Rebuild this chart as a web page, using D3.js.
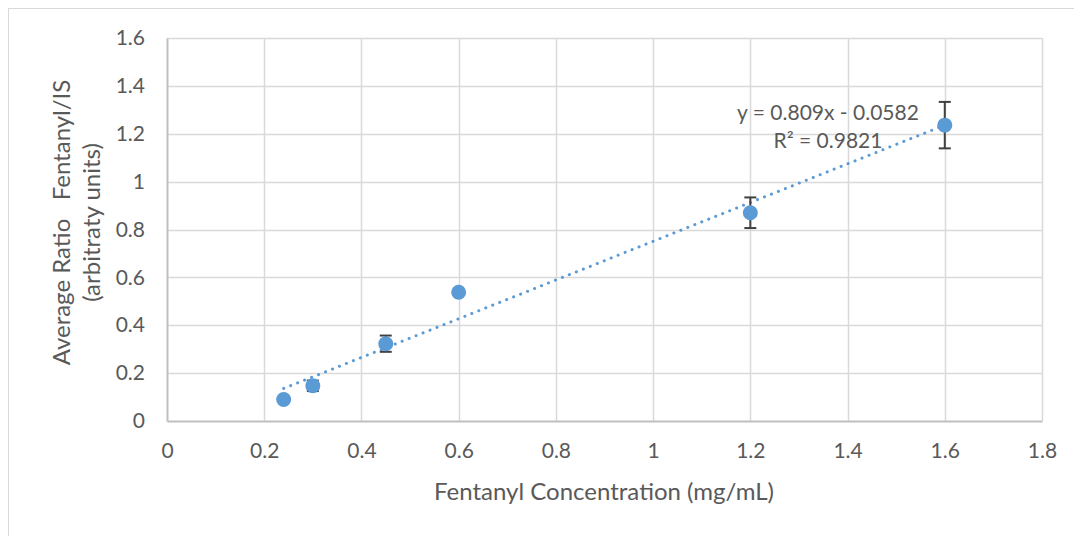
<!DOCTYPE html>
<html>
<head>
<meta charset="utf-8">
<script src="https://cdn.jsdelivr.net/npm/d3@7"></script>
<style>
  body { margin: 0; background: #fff; }
  text { font-family: Lato, "Open Sans", sans-serif; fill: #595959; }
</style>
</head>
<body>
<div id="chart"></div>
<script>
// data
var concentrations = [0.24, 0.3, 0.45, 0.6, 1.2, 1.6];
var ratios = [0.09, 0.147, 0.323, 0.538, 0.87, 1.236];
var errors = [0, 0.022, 0.034, 0, 0.064, 0.097];
var xTicks = [0, 0.2, 0.4, 0.6, 0.8, 1, 1.2, 1.4, 1.6, 1.8];
var yTicks = [0, 0.2, 0.4, 0.6, 0.8, 1, 1.2, 1.4, 1.6];
var slope = 0.809, intercept = -0.0582;

var points = concentrations.map(function(c, i) {
  return { x: c, y: ratios[i], err: errors[i] };
});

var width = 1074, height = 536;
var margin = { top: 38, right: 32, bottom: 115, left: 167 };
var w = width - margin.left - margin.right,
  h = height - margin.top - margin.bottom;

var svg = d3.select("#chart").append("svg")
  .attr("width", width)
  .attr("height", height);

// chart border
svg.append("rect")
  .attr("x", 8.5).attr("y", 8.5)
  .attr("width", width + 10).attr("height", height + 10)
  .attr("fill", "none")
  .attr("stroke", "#d9d9d9");

var g = svg.append("g")
  .attr("transform", "translate(" + margin.left + "," + margin.top + ")");

var x = d3.scaleLinear().domain([0, 1.8]).range([0, w]);
var y = d3.scaleLinear().domain([0, 1.6]).range([h, 0]);

// grid
g.append("g")
  .attr("class", "grid")
  .selectAll("line.h")
  .data(yTicks.slice(1))
  .enter().append("line")
  .attr("x1", 0).attr("x2", w)
  .attr("y1", function(d) { return Math.round(y(d)) + 0.5; })
  .attr("y2", function(d) { return Math.round(y(d)) + 0.5; })
  .attr("stroke", "#d9d9d9").attr("stroke-width", 1.5);

g.append("g")
  .selectAll("line.v")
  .data(xTicks.slice(1))
  .enter().append("line")
  .attr("y1", 0).attr("y2", h)
  .attr("x1", function(d) { return Math.round(x(d)) + 0.5; })
  .attr("x2", function(d) { return Math.round(x(d)) + 0.5; })
  .attr("stroke", "#d9d9d9").attr("stroke-width", 1.5);

// axes
var xAxis = d3.axisBottom(x)
  .tickValues(xTicks)
  .tickSize(0)
  .tickPadding(22)
  .tickFormat(function(d) { return d3.format("")(d); });

var yAxis = d3.axisLeft(y)
  .tickValues(yTicks)
  .tickSize(0)
  .tickPadding(22)
  .tickFormat(function(d) { return d3.format("")(d); });

g.append("g")
  .attr("class", "x axis")
  .attr("transform", "translate(0," + h + ")")
  .call(xAxis)
  .call(function(a) { a.select(".domain").attr("stroke", "#bfbfbf").attr("stroke-width", 2); })
  .selectAll("text")
  .style("font-size", "21px");

g.append("g")
  .attr("class", "y axis")
  .call(yAxis)
  .call(function(a) { a.select(".domain").attr("stroke", "#bfbfbf").attr("stroke-width", 2); })
  .selectAll("text")
  .style("font-size", "21px");

// trendline
var trendX = [d3.min(concentrations), d3.max(concentrations)];
g.append("line")
  .attr("x1", x(trendX[0]))
  .attr("y1", y(slope * trendX[0] + intercept))
  .attr("x2", x(trendX[1]))
  .attr("y2", y(slope * trendX[1] + intercept))
  .attr("stroke", "#5b9bd5")
  .attr("stroke-width", 3)
  .attr("stroke-linecap", "round")
  .attr("stroke-dasharray", "0.1 7.4");

// error bars
var eb = g.selectAll("g.err")
  .data(points.filter(function(d) { return d.err > 0; }))
  .enter().append("g")
  .attr("class", "err")
  .attr("stroke", "#404040")
  .attr("stroke-width", 2);

eb.append("line")
  .attr("x1", function(d) { return x(d.x); })
  .attr("x2", function(d) { return x(d.x); })
  .attr("y1", function(d) { return y(d.y + d.err); })
  .attr("y2", function(d) { return y(d.y - d.err); });
eb.append("line")
  .attr("x1", function(d) { return x(d.x) - 6; })
  .attr("x2", function(d) { return x(d.x) + 6; })
  .attr("y1", function(d) { return y(d.y + d.err); })
  .attr("y2", function(d) { return y(d.y + d.err); });
eb.append("line")
  .attr("x1", function(d) { return x(d.x) - 6; })
  .attr("x2", function(d) { return x(d.x) + 6; })
  .attr("y1", function(d) { return y(d.y - d.err); })
  .attr("y2", function(d) { return y(d.y - d.err); });

// markers
g.selectAll("circle.pt")
  .data(points)
  .enter().append("circle")
  .attr("class", "pt")
  .attr("cx", function(d) { return x(d.x); })
  .attr("cy", function(d) { return y(d.y); })
  .attr("r", 7.5)
  .attr("fill", "#5b9bd5");

// trendline label
var lbl = g.append("text")
  .attr("text-anchor", "middle")
  .style("font-size", "21px");
lbl.append("tspan")
  .attr("x", 661).attr("y", 82)
  .text("y = 0.809x - 0.0582");
lbl.append("tspan")
  .attr("x", 661).attr("y", 110)
  .text("R² = 0.9821");

// axis titles
svg.append("text")
  .attr("x", 604)
  .attr("y", 500)
  .attr("text-anchor", "middle")
  .style("font-size", "24px")
  .text("Fentanyl Concentration (mg/mL)");

var yt = svg.append("text")
  .attr("transform", "translate(70," + (margin.top + h / 2 - 7) + ") rotate(-90)")
  .attr("text-anchor", "middle")
  .style("font-size", "24px");
yt.append("tspan").attr("x", 0).attr("y", 0).attr("xml:space", "preserve").text("Average Ratio   Fentanyl/IS");
yt.append("tspan").attr("x", 0).attr("y", 30).text("(arbitraty units)");
</script>
</body>
</html>
